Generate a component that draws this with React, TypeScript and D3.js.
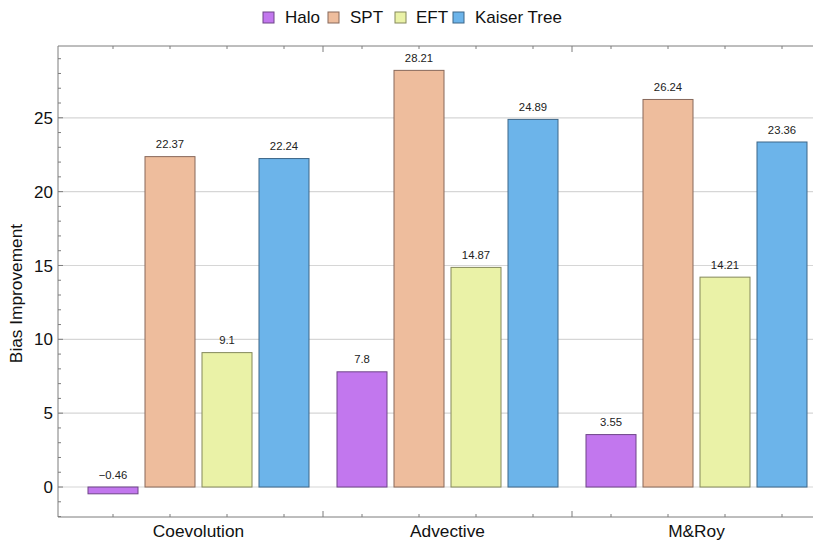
import React from "react";
import * as d3 from "d3";

const categories = ["Coevolution", "Advective", "M&Roy"];
const seriesNames = ["Halo", "SPT", "EFT", "Kaiser Tree"];
const haloValues = [-0.46, 7.8, 3.55];
const sptValues = [22.37, 28.21, 26.24];
const eftValues = [9.1, 14.87, 14.21];
const kaiserValues = [22.24, 24.89, 23.36];
const yTicks = [0, 5, 10, 15, 20, 25];
const fills = ["#c277ee", "#eebd9d", "#eaf2a7", "#6cb4ea"];
const strokes = ["#6e4488", "#87685a", "#84885b", "#3d6688"];

const W = 813;
const H = 541;
const left = 58;
const right = 836;
const top = 46;
const bottom = 517;

export default function App() {
  const seriesValues = [haloValues, sptValues, eftValues, kaiserValues];
  const y = d3.scaleLinear().domain([-2.03, 29.86]).range([bottom, top]);
  const x0 = d3.scaleBand<string>().domain(categories).range([74, 74 + 249 * 3]).paddingInner(0).paddingOuter(0);
  const x1 = d3.scaleBand<string>().domain(seriesNames).range([14, 235]).paddingInner(7 / 57).paddingOuter(0);
  const minorY = d3.range(-2, 30).filter((v) => v % 5 !== 0);
  const barCenters: number[] = [];
  categories.forEach((c) => seriesNames.forEach((s) => barCenters.push((x0(c) as number) + (x1(s) as number) + x1.bandwidth() / 2)));
  const groupBounds = categories.slice(1).map((c) => x0(c) as number);
  const font = "'Liberation Sans', Arial, Helvetica, sans-serif";
  const axisColor = "#7d7d7d";

  const legendX = [263, 328, 395, 453];
  const legendTextX = [285, 350, 416, 475];
  return (
    <svg width={W} height={H} style={{ position: "absolute", left: 0, top: 0, background: "#fff" }} fontFamily={font}>
      {/* grid */}
      {yTicks.map((t) => (
        <line key={"g" + t} x1={left} x2={right} y1={y(t)} y2={y(t)} stroke="#d6d6d6" strokeWidth={1.2} />
      ))}
      {/* bars */}
      {categories.map((c, ci) =>
        seriesNames.map((s, si) => {
          const v = seriesValues[si][ci];
          const bx = (x0(c) as number) + (x1(s) as number);
          const y0 = y(0);
          const yv = y(v);
          const label = v < 0 ? "\u2212" + Math.abs(v) : String(v);
          return (
            <g key={c + s}>
              <rect x={bx} y={Math.min(y0, yv)} width={x1.bandwidth()} height={Math.abs(yv - y0)} fill={fills[si]} stroke={strokes[si]} strokeWidth={1} />
              <text x={bx + x1.bandwidth() / 2} y={Math.min(y0, yv) - 8.5} textAnchor="middle" fontSize={11.3} fill="#222">
                {label}
              </text>
            </g>
          );
        })
      )}
      {/* frame */}
      <line x1={left} x2={right} y1={top} y2={top} stroke={axisColor} strokeWidth={1} />
      <line x1={left} x2={right} y1={bottom} y2={bottom} stroke={axisColor} strokeWidth={1} />
      <line x1={left} x2={left} y1={top} y2={bottom} stroke={axisColor} strokeWidth={1} />
      {/* y ticks */}
      {yTicks.map((t) => (
        <g key={"yt" + t}>
          <line x1={left} x2={left + 5} y1={y(t)} y2={y(t)} stroke={axisColor} />
          <text x={left - 5} y={y(t)} dy="0.36em" textAnchor="end" fontSize={17} fill="#111">
            {t}
          </text>
        </g>
      ))}
      {minorY.map((t) => (
        <line key={"ym" + t} x1={left} x2={left + 3} y1={y(t)} y2={y(t)} stroke={axisColor} />
      ))}
      {/* x ticks */}
      {barCenters.map((cx, i) => (
        <g key={"xm" + i}>
          <line x1={cx} x2={cx} y1={bottom} y2={bottom - 3} stroke={axisColor} />
          <line x1={cx} x2={cx} y1={top} y2={top + 3} stroke={axisColor} />
        </g>
      ))}
      {groupBounds.map((bx, i) => (
        <g key={"xb" + i}>
          <line x1={bx} x2={bx} y1={bottom} y2={bottom - 6} stroke={axisColor} />
          <line x1={bx} x2={bx} y1={top} y2={top + 6} stroke={axisColor} />
        </g>
      ))}
      {categories.map((c) => (
        <text key={"xl" + c} x={(x0(c) as number) + x0.bandwidth() / 2} y={bottom + 20} textAnchor="middle" fontSize={17.3} fill="#111">
          {c}
        </text>
      ))}
      <text transform={`translate(22,${(top + bottom) / 2 + 12}) rotate(-90)`} textAnchor="middle" fontSize={17.3} fill="#111">
        Bias Improvement
      </text>
      {/* legend */}
      {seriesNames.map((s, i) => (
        <g key={"lg" + s}>
          <rect x={legendX[i]} y={12} width={11} height={11} fill={fills[i]} stroke={strokes[i]} />
          <text x={legendTextX[i]} y={23} fontSize={17} fill="#111">
            {s}
          </text>
        </g>
      ))}
    </svg>
  );
}
